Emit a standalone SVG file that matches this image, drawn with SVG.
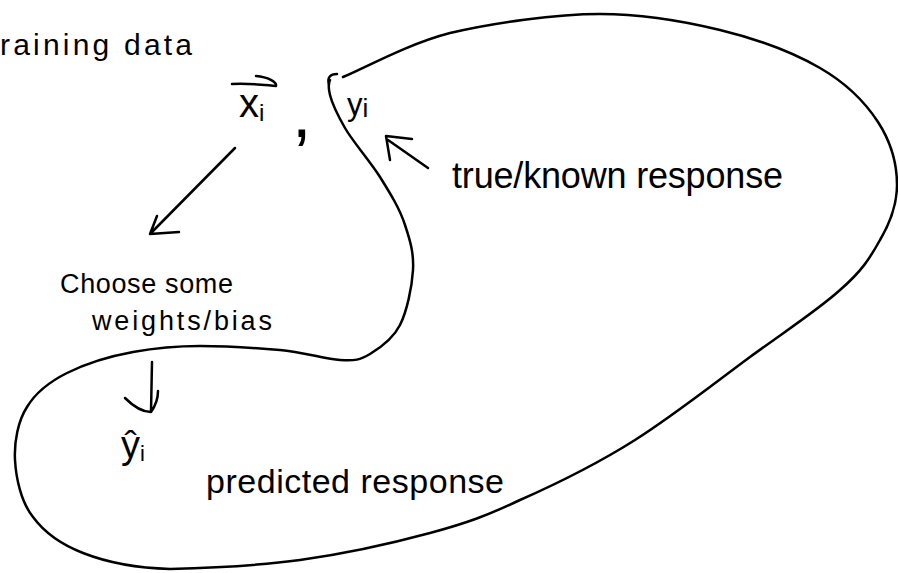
<svg xmlns="http://www.w3.org/2000/svg" width="898" height="573" viewBox="0 0 898 573">
<style>
.ink{fill:none;stroke:#000;stroke-width:2.5;stroke-linecap:round;stroke-linejoin:round}
.t{font-family:"Liberation Sans","DejaVu Sans",sans-serif;fill:#000}
</style>
<rect width="898" height="573" fill="#fff"/>
<g id="region">
<path class="ink" d="M329 84 C327 78,330 74,337 74"/>
<path class="ink" d="M343 77 C361 70,407 44,450 33 C493 23,555 14,600 14 C645 14,683 21,720 30 C757 39,794 53,820 68 C846 83,865 102,878 122 C891 142,897 165,897 185 C897 205,890 223,880 240 C870 258,862 271,840 290 C818 310,784 332,750 357 C716 382,673 416,635 440 C597 464,554 485,520 500 C486 516,467 523,430 533 C393 543,343 554,300 560 C257 566,206 568,170 569 C134 568,106 562,83 553 C60 544,44 532,33 517 C21 502,16 478,15 460 C14 442,18 421,27 407 C36 392,49 382,67 373 C85 364,111 356,133 352 C155 348,175 346,200 346 C225 346,257 348,280 350 C303 352,325 359,340 360 C355 361,360 360,370 354 C380 348,393 339,400 325 C407 311,412 287,413 270 C414 253,410 240,405 225 C400 209,390 193,380 177 C370 161,353 142,345 128 C337 114,332 103,330 95 C328 87,329 82,330 80"/>
</g>
<g id="training-data">
<text class="t" x="0" y="55" font-size="30" textLength="192">raining data</text>
</g>
<g id="xi">
<path class="ink" d="M232 84 C250 83,264 85,276 86 C277 82,268 77,256 76"/>
<text class="t" x="239" y="117" font-size="40">x<tspan font-size="24" dy="4">i</tspan></text>
</g>
<g id="comma">
<text class="t" x="292" y="137" font-size="70">,</text>
</g>
<g id="yi">
<text class="t" x="347" y="115" font-size="31">y<tspan font-size="26" dy="2">i</tspan></text>
</g>
<g id="true-response">
<text class="t" x="452" y="188" font-size="36" textLength="331">true/known response</text>
</g>
<g id="choose">
<text class="t" x="60" y="293" font-size="27" textLength="173">Choose some</text>
<text class="t" x="92" y="330" font-size="27" textLength="180">weights/bias</text>
</g>
<g id="yhat">
<text class="t" x="121" y="458" font-size="38">ŷ<tspan font-size="22" dy="3">i</tspan></text>
</g>
<g id="predicted-response">
<text class="t" x="206" y="493" font-size="34" textLength="298">predicted response</text>
</g>
<g id="connectors">
<path class="ink" d="M235 148 L151 233 M157 216 L150 234 L179 232"/>
<path class="ink" d="M428 168 L388 140 M390 160 L386 136 L412 139"/>
<path class="ink" d="M152 362 L151 412 M125 398 C133 406,143 412,151 412 C156 405,158 398,158 391"/>
</g>
</svg>
